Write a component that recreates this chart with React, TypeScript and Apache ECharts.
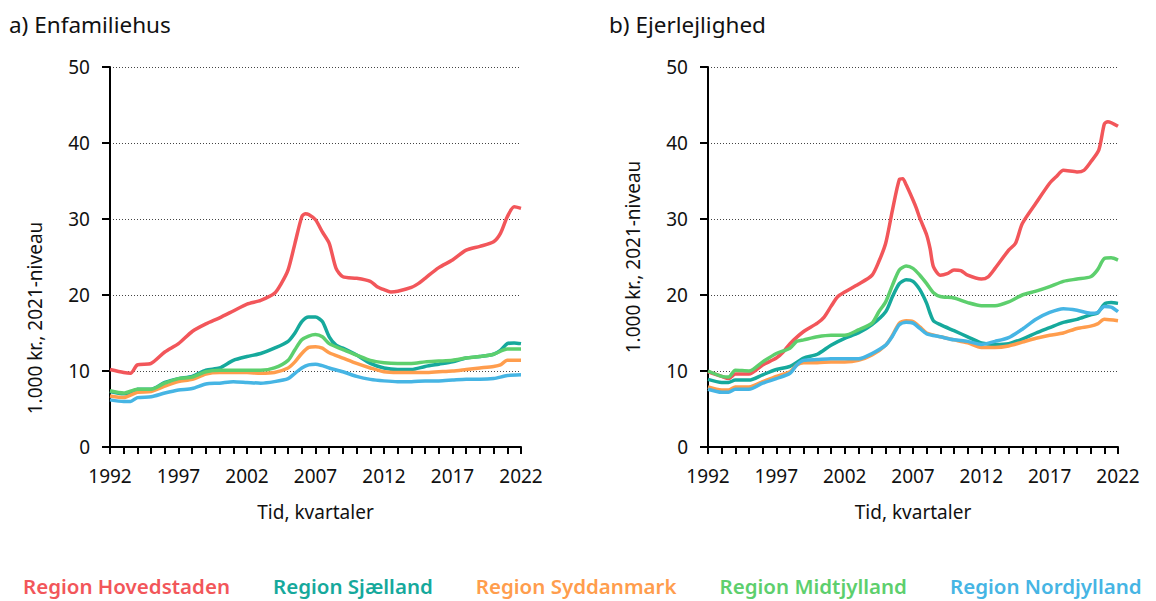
import React, { useEffect, useRef } from "react";
import * as echarts from "echarts";

type P = [number, number];

const regionNames = [
  "Region Hovedstaden",
  "Region Sjælland",
  "Region Syddanmark",
  "Region Midtjylland",
  "Region Nordjylland",
];
const regionColors = ["#F2565A", "#16A99C", "#FF9D4D", "#5DCF6D", "#46B5E4"];
const xTickLabels = [1992, 1997, 2002, 2007, 2012, 2017, 2022];
const panelTitles = ["a) Enfamiliehus", "b) Ejerlejlighed"];
const yAxisName = "1.000 kr., 2021-niveau";
const xAxisName = "Tid, kvartaler";

// a) Enfamiliehus
const hovedHus: P[] = [[1992,10.2],[1993,9.8],[1993.5,9.7],[1994,10.8],[1995,11.0],[1996,12.5],[1997,13.6],[1998,15.2],[1999,16.2],[2000,17.0],[2001,17.9],[2002,18.8],[2003,19.3],[2004,20.2],[2004.5,21.5],[2005,23.3],[2005.5,26.8],[2006,30.3],[2006.25,30.7],[2006.5,30.6],[2007,29.9],[2007.5,28.3],[2008,26.8],[2008.5,23.5],[2009,22.4],[2010,22.2],[2011,21.8],[2011.5,21.1],[2012,20.7],[2012.5,20.4],[2013,20.5],[2014,21.0],[2014.5,21.5],[2015,22.2],[2016,23.6],[2017,24.6],[2018,25.9],[2019,26.4],[2020,27.0],[2020.5,28.1],[2021,30.3],[2021.5,31.6],[2022,31.4]];
const sjaelHus: P[] = [[1992,7.3],[1993,7.0],[1993.5,7.0],[1994,7.6],[1995,7.6],[1996,8.5],[1997,9.0],[1998,9.3],[1999,10.1],[2000,10.4],[2001,11.4],[2002,11.9],[2003,12.3],[2004,13.0],[2005,13.9],[2005.5,15.0],[2006,16.5],[2006.5,17.1],[2007,17.1],[2007.5,16.5],[2008,14.5],[2008.5,13.4],[2009,13.0],[2010,12.1],[2011,11.0],[2012,10.4],[2013,10.2],[2014,10.2],[2015,10.6],[2016,10.9],[2017,11.2],[2018,11.7],[2019,11.9],[2020,12.2],[2020.5,12.7],[2021,13.6],[2021.5,13.7],[2022,13.6]];
const syddHus: P[] = [[1992,6.7],[1993,6.5],[1994,7.2],[1995,7.3],[1996,8.0],[1997,8.6],[1998,8.9],[1999,9.6],[2000,9.8],[2001,9.8],[2002,9.8],[2003,9.7],[2004,9.8],[2005,10.4],[2005.5,11.2],[2006,12.3],[2006.5,13.1],[2007,13.2],[2007.5,13.0],[2008,12.4],[2009,11.7],[2010,11.0],[2011,10.4],[2012,9.9],[2013,9.8],[2014,9.8],[2015,9.8],[2016,9.9],[2017,10.0],[2018,10.2],[2019,10.4],[2020,10.6],[2020.5,10.8],[2021,11.4],[2022,11.4]];
const midtHus: P[] = [[1992,7.4],[1993,7.1],[1994,7.6],[1995,7.6],[1996,8.4],[1997,9.0],[1998,9.2],[1999,9.9],[2000,10.1],[2001,10.1],[2002,10.1],[2003,10.1],[2004,10.4],[2005,11.4],[2005.5,12.8],[2006,14.1],[2006.5,14.6],[2007,14.8],[2007.5,14.5],[2008,13.6],[2009,12.8],[2010,12.1],[2011,11.4],[2012,11.1],[2013,11.0],[2014,11.0],[2015,11.2],[2016,11.3],[2017,11.4],[2018,11.7],[2019,11.9],[2020,12.2],[2021,12.9],[2022,12.9]];
const nordHus: P[] = [[1992,6.2],[1993,6.0],[1993.5,6.0],[1994,6.5],[1995,6.6],[1996,7.1],[1997,7.5],[1998,7.7],[1999,8.3],[2000,8.4],[2001,8.6],[2002,8.5],[2003,8.4],[2004,8.6],[2005,9.0],[2005.5,9.7],[2006,10.4],[2006.5,10.8],[2007,10.9],[2007.5,10.7],[2008,10.4],[2009,9.9],[2010,9.3],[2011,8.9],[2012,8.7],[2013,8.6],[2014,8.6],[2015,8.7],[2016,8.7],[2017,8.8],[2018,8.9],[2019,8.9],[2020,9.0],[2021,9.4],[2022,9.5]];

// b) Ejerlejlighed
const hovedLejl: P[] = [[1992,9.9],[1993,9.3],[1993.5,9.0],[1994,9.6],[1995,9.6],[1996,10.8],[1997,11.7],[1997.5,12.5],[1998,13.6],[1999,15.2],[2000,16.3],[2000.5,17.1],[2001,18.5],[2001.5,19.8],[2002,20.4],[2003,21.4],[2004,22.6],[2004.5,24.4],[2005,26.8],[2005.5,31.2],[2006,35.2],[2006.25,35.3],[2006.5,34.5],[2007,32.5],[2007.25,31.4],[2007.5,30.1],[2008,27.9],[2008.25,26.1],[2008.5,23.7],[2009,22.6],[2009.5,22.8],[2010,23.3],[2010.5,23.2],[2011,22.6],[2012,22.1],[2012.5,22.4],[2013,23.5],[2014,25.9],[2014.5,26.8],[2015,29.4],[2016,32.1],[2017,34.7],[2017.5,35.6],[2018,36.4],[2019,36.2],[2019.5,36.4],[2020,37.5],[2020.6,39.1],[2021,42.5],[2021.25,42.8],[2022,42.2]];
const sjaelLejl: P[] = [[1992,8.9],[1993,8.5],[1993.5,8.5],[1994,8.8],[1995,8.8],[1996,9.5],[1997,10.2],[1998,10.6],[1999,11.7],[2000,12.2],[2001,13.4],[2002,14.3],[2003,15.0],[2004,16.1],[2005,17.8],[2005.5,19.8],[2006,21.5],[2006.5,22.0],[2007,21.8],[2007.5,20.7],[2008,18.9],[2008.25,17.6],[2008.5,16.6],[2009,16.1],[2010,15.3],[2011,14.5],[2012,13.7],[2013,13.5],[2014,13.6],[2015,14.2],[2016,15.0],[2017,15.7],[2018,16.4],[2019,16.8],[2020,17.4],[2020.5,17.6],[2021,18.8],[2021.5,19.0],[2022,18.9]];
const syddLejl: P[] = [[1992,7.9],[1993,7.5],[1993.5,7.5],[1994,7.9],[1995,7.9],[1996,8.6],[1997,9.3],[1998,9.9],[1998.5,10.8],[1999,11.1],[2000,11.1],[2001,11.2],[2002,11.2],[2003,11.4],[2004,12.1],[2005,13.4],[2005.5,14.7],[2006,16.3],[2006.5,16.6],[2007,16.5],[2007.5,15.8],[2008,15.0],[2009,14.5],[2010,14.1],[2011,13.7],[2012,13.1],[2013,13.1],[2014,13.3],[2015,13.8],[2016,14.3],[2017,14.7],[2018,15.0],[2019,15.6],[2020,15.9],[2020.5,16.2],[2021,16.8],[2022,16.6]];
const midtLejl: P[] = [[1992,10.0],[1993,9.3],[1993.5,9.2],[1994,10.1],[1995,10.0],[1996,11.2],[1997,12.3],[1998,13.0],[1998.5,13.9],[1999,14.1],[2000,14.5],[2001,14.7],[2002,14.7],[2003,15.4],[2004,16.3],[2004.5,17.8],[2005,19.1],[2005.5,21.3],[2006,23.3],[2006.5,23.8],[2007,23.5],[2007.5,22.6],[2008,21.5],[2008.5,20.3],[2009,19.8],[2010,19.6],[2011,19.0],[2012,18.6],[2013,18.6],[2014,19.1],[2015,20.0],[2016,20.5],[2017,21.1],[2018,21.8],[2019,22.1],[2020,22.4],[2020.5,23.3],[2021,24.8],[2021.5,24.9],[2022,24.6]];
const nordLejl: P[] = [[1992,7.6],[1993,7.2],[1993.5,7.2],[1994,7.6],[1995,7.6],[1996,8.4],[1997,9.0],[1998,9.7],[1998.5,10.8],[1999,11.4],[2000,11.5],[2001,11.6],[2002,11.6],[2003,11.6],[2004,12.3],[2005,13.4],[2005.5,14.6],[2006,16.1],[2006.5,16.4],[2007,16.3],[2007.5,15.6],[2008,14.9],[2009,14.5],[2010,14.1],[2011,13.9],[2012,13.5],[2013,13.9],[2014,14.4],[2015,15.5],[2016,16.8],[2017,17.7],[2018,18.2],[2019,18.0],[2020,17.6],[2020.5,17.7],[2021,18.5],[2021.5,18.4],[2022,17.8]];

const husSeries = [hovedHus, sjaelHus, syddHus, midtHus, nordHus];
const lejlSeries = [hovedLejl, sjaelLejl, syddLejl, midtLejl, nordLejl];

const FONT = "'Noto Sans', 'Open Sans', sans-serif";

function xAxisCfg(gridIndex: number) {
  return {
    type: "value",
    gridIndex,
    min: 1992,
    max: 2022,
    interval: 1,
    name: xAxisName,
    nameLocation: "middle",
    nameGap: 55,
    nameTextStyle: { fontSize: 19, color: "#111", fontFamily: FONT },
    axisLine: { show: true, onZero: false, lineStyle: { color: "#000", width: 2 } },
    axisTick: { show: true, length: 7, lineStyle: { color: "#000", width: 2 } },
    axisLabel: {
      fontSize: 19,
      color: "#111",
      fontFamily: FONT,
      margin: 19,
      formatter: (v: number) => (xTickLabels.includes(Math.round(v)) ? String(Math.round(v)) : ""),
    },
    splitLine: { show: false },
  };
}

function yAxisCfg(gridIndex: number) {
  return {
    type: "value",
    gridIndex,
    min: 0,
    max: 50,
    interval: 10,
    name: gridIndex === 1 ? yAxisName : "",
    nameLocation: "middle",
    nameGap: 66,
    nameTextStyle: { fontSize: 19, color: "#111", fontFamily: FONT },
    axisLine: { show: true, lineStyle: { color: "#000", width: 2 } },
    axisTick: { show: true, length: 8, lineStyle: { color: "#000", width: 2 } },
    axisLabel: { fontSize: 19, color: "#111", fontFamily: FONT, margin: 20 },
    splitLine: { show: true, lineStyle: { color: "#444", type: [1, 2], width: 1 } },
  };
}

export default function App() {
  const ref = useRef<HTMLDivElement>(null);
  useEffect(() => {
    if (!ref.current) return;
    const chart = echarts.init(ref.current, undefined, { renderer: "svg" });
    const series: any[] = [];
    [husSeries, lejlSeries].forEach((group, gi) => {
      group.forEach((data, i) => {
        series.push({
          type: "line",
          name: regionNames[i],
          xAxisIndex: gi,
          yAxisIndex: gi,
          data,
          showSymbol: false,
          smooth: 0.25,
          lineStyle: { color: regionColors[i], width: 3.5 },
          itemStyle: { color: regionColors[i] },
        });
      });
    });
    chart.setOption({
      animation: false,
      backgroundColor: "#fff",
      title: panelTitles.map((t, i) => ({
        text: t,
        left: i === 0 ? 4 : 604,
        top: 8,
        textStyle: { fontSize: 22.5, fontWeight: "normal", color: "#111", fontFamily: FONT },
      })),
      graphic: [
        {
          type: "text",
          x: 35,
          y: 318,
          rotation: Math.PI / 2,
          style: {
            text: yAxisName,
            fontSize: 19,
            fontFamily: FONT,
            fill: "#111",
            align: "center",
            verticalAlign: "middle",
          },
        },
      ],
      legend: {
        bottom: 0,
        left: 8,
        width: 1148,
        icon: "none",
        itemWidth: 0,
        itemHeight: 0,
        itemGap: 38,
        padding: [5, 10, 5, 10],
        selectedMode: false,
        textStyle: { fontSize: 20.5, fontWeight: 600, fontFamily: FONT },
        data: regionNames.map((n, i) => ({ name: n, textStyle: { color: regionColors[i] } })),
      },
      grid: [
        { left: 110, top: 67, width: 411, height: 380 },
        { left: 708, top: 67, width: 410, height: 380 },
      ],
      xAxis: [xAxisCfg(0), xAxisCfg(1)],
      yAxis: [yAxisCfg(0), yAxisCfg(1)],
      series,
    });
    return () => chart.dispose();
  }, []);
  return (
    <div
      ref={ref}
      style={{ position: "fixed", left: 0, top: 0, width: 1156, height: 601 }}
    />
  );
}
